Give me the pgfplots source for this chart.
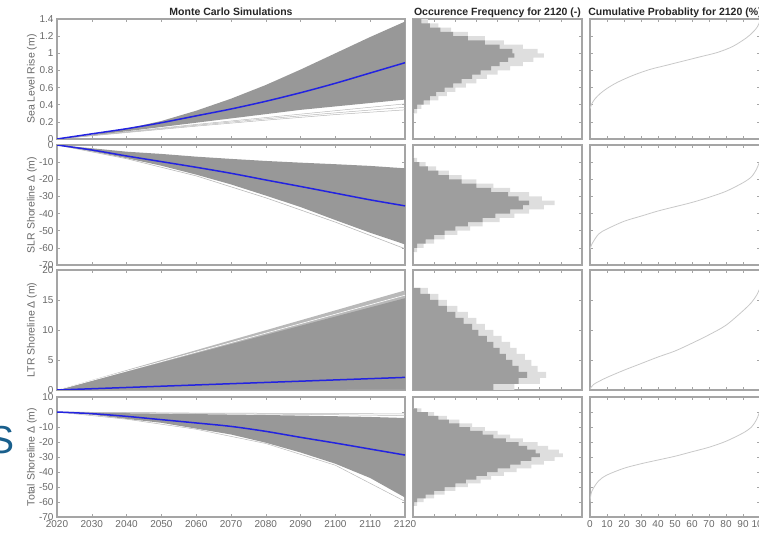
\documentclass[border=0pt]{standalone}
\usepackage{fontspec}
\setmainfont{Liberation Sans}
\usepackage{pgfplots}
\pgfplotsset{compat=1.18}
\usepackage{pgfplotstable}

\definecolor{axgray}{RGB}{165,165,165}
\definecolor{txtgray}{RGB}{105,105,105}
\definecolor{fan}{RGB}{152,152,152}
\definecolor{fanlight}{RGB}{185,185,185}
\definecolor{mcblue}{RGB}{35,35,225}
\definecolor{histd}{RGB}{158,158,158}
\definecolor{histl}{RGB}{222,222,222}
\definecolor{cdf}{RGB}{200,200,200}
\definecolor{slide}{RGB}{25,95,140}

% horizontal histograms of the 2120 values: y = bin start, d = dense edge, l = faint fringe
\pgfplotstableread{
y d l
0.30 0.05 0.2
0.35 0.2 0.4
0.40 0.5 0.8
0.45 0.8 1.2
0.50 1.1 1.6
0.55 1.5 2.0
0.60 1.9 2.5
0.65 2.3 3.0
0.70 2.8 3.5
0.75 3.2 4.0
0.80 3.7 4.6
0.85 4.1 5.2
0.90 4.5 5.7
0.95 4.8 6.2
1.00 4.7 5.9
1.05 4.1 5.2
1.10 3.4 4.3
1.15 2.6 3.4
1.20 1.9 2.6
1.25 1.3 1.8
1.30 0.8 1.2
1.35 0.4 0.7
1.40 0 0
}\hA
\pgfplotstableread{
y d l
-62.5 0.05 0.2
-60 0.2 0.5
-57.5 0.6 1.0
-55 1.0 1.5
-52.5 1.5 2.1
-50 2.0 2.7
-47.5 2.6 3.3
-45 3.3 4.1
-42.5 3.9 4.8
-40 4.6 5.5
-37.5 5.2 6.2
-35 5.5 6.7
-32.5 5.0 6.1
-30 4.5 5.5
-27.5 3.7 4.6
-25 3.0 3.8
-22.5 2.3 3.0
-20 1.7 2.3
-17.5 1.2 1.7
-15 0.7 1.1
-12.5 0.3 0.6
-10 0.05 0.2
-7.5 0 0
}\hB
\pgfplotstableread{
y d l
0 3.8 4.8
1 5.0 6.0
2 5.4 6.3
3 5.0 5.9
4 4.7 5.6
5 4.4 5.3
6 4.1 4.9
7 3.8 4.6
8 3.5 4.2
9 3.1 3.8
10 2.8 3.4
11 2.4 3.0
12 2.0 2.6
13 1.6 2.1
14 1.2 1.6
15 0.8 1.2
16 0.35 0.7
17 0 0
}\hC
\pgfplotstableread{
y d l
-62.5 0.05 0.2
-60 0.2 0.5
-57.5 0.6 1.0
-55 1.0 1.5
-52.5 1.5 2.0
-50 2.0 2.6
-47.5 2.5 3.2
-45 3.0 3.7
-42.5 3.5 4.3
-40 4.0 4.9
-37.5 4.6 5.6
-35 5.1 6.2
-32.5 5.6 6.7
-30 6.0 7.1
-27.5 5.8 6.9
-25 5.4 6.4
-22.5 5.0 5.9
-20 4.4 5.2
-17.5 3.8 4.6
-15 3.3 4.0
-12.5 2.7 3.4
-10 2.2 2.8
-7.5 1.7 2.2
-5 1.2 1.6
-2.5 0.7 1.0
0 0.2 0.4
2.5 0 0
}\hD

\pgfplotsset{
  mc/.style={
    scale only axis, anchor=south west, height=120pt,
    axis line style={axgray, line width=1.1pt},
    every tick/.style={axgray, line width=0.6pt},
    major tick length=3pt, tick align=inside,
    /pgf/number format/assume math mode=true,
    /pgf/number format/1000 sep={},
    tick label style={font=\fontsize{10}{12}\selectfont, text=txtgray},
    every axis y label/.style={at={(axis description cs:0,0.5)}, xshift=-25pt,
      rotate=90, anchor=center, font=\fontsize{10.5}{12}\selectfont, text=txtgray},
    every axis title/.style={at={(axis description cs:0.5,1)}, anchor=base,
      yshift=3.5pt, font=\bfseries\fontsize{10.5}{12}\selectfont, text=black!85},
  },
  main/.style={mc, width=348pt, xmin=2020, xmax=2120, xtick={2020,2030,...,2120}},
  hist/.style={mc, width=169pt, xmin=0, xmax=8, xtick={1,...,7},
    xticklabels={}, yticklabels={}},
  cum/.style={mc, width=170pt, xmin=0, xmax=100, xtick={0,10,...,100}, yticklabels={}},
  row1/.style={ymin=0, ymax=1.4, ytick={0,0.2,0.4,0.6,0.8,1,1.2,1.4}},
  row2/.style={ymin=-70, ymax=0, ytick={-70,-60,-50,-40,-30,-20,-10,0}},
  row3/.style={ymin=0, ymax=20, ytick={0,5,10,15,20}},
  row4/.style={ymin=-70, ymax=10, ytick={-70,-60,-50,-40,-30,-20,-10,0,10}},
}

\begin{document}
\begin{tikzpicture}
\node[anchor=base, inner sep=0pt, text=slide, font=\fontsize{39}{40}\selectfont] at (2pt,82pt) {S};

% ---------- row 1: sea level rise
\begin{axis}[main, row1, at={(57pt,396pt)}, xticklabels={},
  ylabel={Sea Level Rise (m)}, title={Monte Carlo Simulations}]
\addplot[fill=fan, draw=none] coordinates {
  (2020,0) (2030,0.05) (2040,0.12) (2050,0.21) (2060,0.33) (2070,0.47)
  (2080,0.63) (2090,0.81) (2100,1.0) (2110,1.19) (2120,1.37)
  (2120,0.46) (2110,0.42) (2100,0.38) (2090,0.34) (2080,0.29) (2070,0.24)
  (2060,0.19) (2050,0.14) (2040,0.09) (2030,0.04)} -- cycle;
\addplot[fanlight, line width=0.5pt] coordinates {(2020,0) (2040,0.085) (2060,0.17) (2080,0.25) (2100,0.33) (2120,0.41)};
\addplot[fanlight, line width=0.5pt] coordinates {(2020,0) (2040,0.08) (2060,0.16) (2080,0.235) (2100,0.305) (2120,0.37)};
\addplot[fanlight, line width=0.5pt] coordinates {(2020,0) (2040,0.075) (2060,0.15) (2080,0.22) (2100,0.285) (2120,0.34)};
\addplot[mcblue, line width=1.5pt, smooth] coordinates {
  (2020,0) (2030,0.06) (2040,0.12) (2050,0.19) (2060,0.27) (2070,0.35)
  (2080,0.44) (2090,0.54) (2100,0.65) (2110,0.77) (2120,0.89)};
\end{axis}
\begin{axis}[hist, row1, at={(413pt,396pt)}, title={Occurence Frequency for 2120 (-)}]
\addplot[xbar interval, fill=histl, draw=none] table[x=l, y=y] {\hA};
\addplot[xbar interval, fill=histd, draw=none] table[x=d, y=y] {\hA};
\end{axis}
\begin{axis}[cum, row1, at={(590pt,396pt)}, xticklabels={},
  title={Cumulative Probablity for 2120 (\%)}]
\addplot[cdf, line width=0.8pt, smooth] coordinates {
  (0,0.35) (1,0.41) (3,0.47) (6,0.53) (10,0.59) (16,0.66) (25,0.74) (35,0.81)
  (45,0.86) (55,0.91) (65,0.96) (75,1.01) (84,1.08) (92,1.18) (96,1.25) (98.5,1.31) (100,1.38)};
\end{axis}

% ---------- row 2: SLR shoreline change
\begin{axis}[main, row2, at={(57pt,270pt)}, xticklabels={}, ylabel={SLR Shoreline Δ (m)}]
\addplot[fill=fan, draw=none] coordinates {
  (2020,0) (2030,-1.9) (2040,-3.9) (2050,-5.2) (2060,-6.8) (2070,-8.1)
  (2080,-9.3) (2090,-10.3) (2100,-11.2) (2110,-12.2) (2120,-13.6)
  (2120,-58) (2110,-51.2) (2100,-43.8) (2090,-36.2) (2080,-29.5) (2070,-23)
  (2060,-17.3) (2050,-12.1) (2040,-7.7) (2030,-3.7)} -- cycle;
\addplot[fanlight, line width=0.6pt] coordinates {(2020,0) (2040,-8) (2060,-18) (2080,-30.8) (2100,-45) (2120,-60.5)};
\addplot[mcblue, line width=1.5pt, smooth] coordinates {
  (2020,0) (2030,-2.9) (2040,-6.4) (2050,-9.7) (2060,-13) (2070,-16.5)
  (2080,-20.4) (2090,-24.2) (2100,-28.1) (2110,-32) (2120,-35.5)};
\end{axis}
\begin{axis}[hist, row2, at={(413pt,270pt)}]
\addplot[xbar interval, fill=histl, draw=none] table[x=l, y=y] {\hB};
\addplot[xbar interval, fill=histd, draw=none] table[x=d, y=y] {\hB};
\end{axis}
\begin{axis}[cum, row2, at={(590pt,270pt)}, xticklabels={}]
\addplot[cdf, line width=0.8pt, smooth] coordinates {
  (0,-61) (1,-58) (5,-52) (10,-49) (20,-44.5) (30,-41.5) (40,-38.5) (50,-36)
  (60,-33.5) (70,-30.5) (80,-27) (90,-22) (95,-18.5) (98,-14) (100,-9)};
\end{axis}

% ---------- row 3: LTR shoreline change
\begin{axis}[main, row3, at={(57pt,145pt)}, xticklabels={}, ylabel={LTR Shoreline Δ (m)}]
\addplot[fill=fanlight, draw=none] coordinates {(2020,0) (2120,16.6) (2120,15.0)} -- cycle;
\addplot[fill=fan, draw=none] coordinates {(2020,0) (2120,15.3) (2120,0.1)} -- cycle;
\addplot[white, line width=0.6pt] coordinates {(2020,0) (2120,15.8)};
\addplot[mcblue, line width=1.5pt] coordinates {(2020,0) (2120,2.1)};
\end{axis}
\begin{axis}[hist, row3, at={(413pt,145pt)}]
\addplot[xbar interval, fill=histl, draw=none] table[x=l, y=y] {\hC};
\addplot[xbar interval, fill=histd, draw=none] table[x=d, y=y] {\hC};
\end{axis}
\begin{axis}[cum, row3, at={(590pt,145pt)}, xticklabels={}]
\addplot[cdf, line width=0.8pt, smooth] coordinates {
  (0,0.2) (2,0.9) (5,1.4) (10,2.1) (20,3.3) (30,4.4) (40,5.5) (50,6.5)
  (60,7.8) (70,9.2) (80,10.8) (90,13.2) (95,14.6) (98,15.8) (100,17)};
\end{axis}

% ---------- row 4: total shoreline change
\begin{axis}[main, row4, at={(57pt,18pt)}, ylabel={Total Shoreline Δ (m)}]
\addplot[fill=fan, draw=none] coordinates {
  (2020,0) (2030,-0.4) (2040,-0.8) (2050,-1.1) (2060,-1.4) (2070,-1.7)
  (2080,-2.0) (2090,-2.4) (2100,-2.8) (2110,-3.3) (2120,-4)
  (2120,-57) (2110,-44) (2100,-34.5) (2090,-27) (2080,-20.5) (2070,-15)
  (2060,-11.1) (2050,-7.2) (2040,-4.6) (2030,-1.8)} -- cycle;
\addplot[fanlight, line width=0.5pt] coordinates {(2020,0) (2060,-0.7) (2100,-1.0) (2120,-1.3)};
\addplot[fanlight, line width=0.5pt] coordinates {(2020,0) (2060,-1.0) (2100,-1.8) (2120,-2.4)};
\addplot[fanlight, line width=0.5pt] coordinates {(2020,0) (2040,-4.8) (2060,-11.5) (2080,-21) (2100,-35.5) (2120,-59.6)};
\addplot[mcblue, line width=1.5pt, smooth] coordinates {
  (2020,0) (2030,-1.1) (2040,-2.9) (2050,-5.1) (2060,-7.3) (2070,-9.6)
  (2080,-12.9) (2090,-16.9) (2100,-20.7) (2110,-24.7) (2120,-28.7)};
\end{axis}
\begin{axis}[hist, row4, at={(413pt,18pt)}]
\addplot[xbar interval, fill=histl, draw=none] table[x=l, y=y] {\hD};
\addplot[xbar interval, fill=histd, draw=none] table[x=d, y=y] {\hD};
\end{axis}
\begin{axis}[cum, row4, at={(590pt,18pt)}]
\addplot[cdf, line width=0.8pt, smooth] coordinates {
  (0,-60) (1,-53) (5,-46) (10,-42) (20,-37.5) (30,-34.5) (40,-32) (50,-29.5)
  (60,-26.5) (70,-23.5) (80,-19.5) (90,-14) (95,-10) (98,-5) (100,1)};
\end{axis}

\pgfresetboundingbox
\path[use as bounding box] (0pt,0pt) rectangle (759pt,535pt);
\end{tikzpicture}
\end{document}
